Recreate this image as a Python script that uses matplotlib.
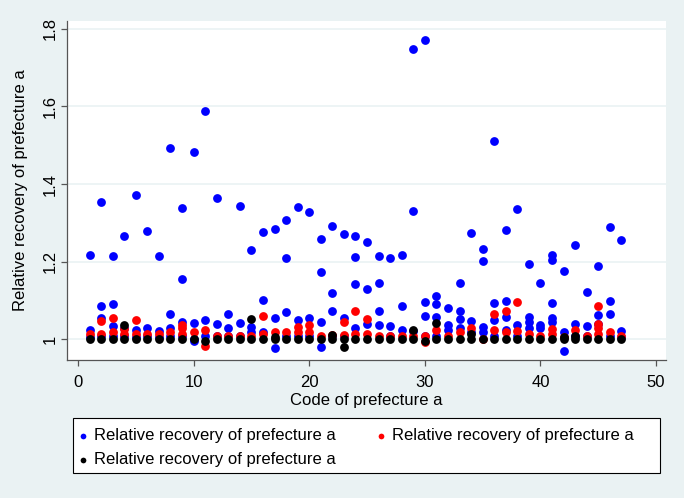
import matplotlib
matplotlib.use("Agg")
import matplotlib.pyplot as plt
from matplotlib.patches import Rectangle

plt.rcParams['font.family'] = ['Liberation Sans', 'DejaVu Sans']

# ---- data: (code, value) per series ----
blue_codes = [1,1,1, 2,2,2,2, 3,3,3,3, 4,4,4, 5,5,5, 6,6,6, 7,7,7, 8,8,8,8,
              9,9,9,9, 10,10,10,10, 11,11,11, 12,12,12, 13,13,13, 14,14,14,
              15,15,15, 16,16,16, 17,17,17, 18,18,18,18, 19,19,19, 20,20,20,
              21,21,21,21, 22,22,22,22, 23,23,23, 24,24,24,24, 25,25,25,
              26,26,26,26, 27,27,27, 28,28,28, 29,29,29, 30,30,30,30,
              31,31,31,31, 32,32,32, 33,33,33,33, 34,34,34, 35,35,35,35,
              36,36,36,36, 37,37,37,37, 38,38,38, 39,39,39,39, 40,40,40,
              41,41,41,41,41, 42,42,42, 43,43,43, 44,44,44, 45,45,45,
              46,46,46,46, 47,47,47]
blue_vals = [1.218,1.024,1.005, 1.353,1.086,1.055,1.01, 1.215,1.09,1.035,1.01,
             1.266,1.03,1.01, 1.371,1.025,1.005, 1.279,1.029,1.01, 1.215,1.022,1.005,
             1.493,1.065,1.03,1.01, 1.339,1.156,1.046,1.01, 1.483,1.042,1.0,0.995,
             1.588,1.049,1.01, 1.363,1.04,1.01, 1.066,1.03,1.01, 1.344,1.042,1.01,
             1.23,1.032,1.02, 1.277,1.102,1.02, 1.284,1.055,0.977, 1.308,1.21,1.07,1.01,
             1.34,1.05,1.01, 1.329,1.055,1.01, 1.259,1.173,1.046,0.981,
             1.292,1.119,1.073,1.01, 1.272,1.056,1.01, 1.266,1.212,1.144,1.03,
             1.25,1.13,1.04, 1.215,1.146,1.073,1.036, 1.21,1.034,1.01,
             1.218,1.085,1.025, 1.748,1.331,1.022, 1.772,1.097,1.061,1.01,
             1.112,1.092,1.058,1.01, 1.08,1.036,1.025, 1.145,1.072,1.053,1.03,
             1.273,1.048,1.02, 1.232,1.202,1.032,1.02, 1.511,1.095,1.05,1.01,
             1.282,1.1,1.058,1.025, 1.336,1.036,1.01, 1.194,1.058,1.046,1.03,
             1.146,1.036,1.03, 1.217,1.205,1.095,1.056,1.046, 1.176,1.02,0.971,
             1.243,1.04,1.01, 1.123,1.035,1.01, 1.19,1.062,1.04,
             1.289,1.10,1.065,1.01, 1.257,1.022,1.005]

red_codes = [1, 2,2, 3,3, 4,4, 5,5, 6, 7, 8, 9,9,9, 10, 11,11, 12, 13, 14, 15,
             16,16, 17, 18, 19,19, 20,20, 21, 22, 23,23, 24,24, 25,25, 26, 27,
             28, 29, 30,30, 31, 32, 33, 34, 35, 36,36, 37,37, 38,38, 39, 40,
             41,41, 42, 43, 44, 45,45,45,45, 46, 47]
red_vals = [1.013, 1.048,1.013, 1.056,1.02, 1.027,1.013, 1.051,1.013, 1.013, 1.015,
            1.02, 1.037,1.03,1.015, 1.02, 1.025,0.984, 1.01, 1.01, 1.01, 1.01,
            1.06,1.015, 1.02, 1.02, 1.033,1.02, 1.037,1.02, 1.01, 1.012,
            1.046,1.012, 1.072,1.015, 1.052,1.015, 1.01, 1.01, 1.01, 1.01,
            1.01,0.994, 1.025, 1.01, 1.02, 1.03, 1.0, 1.065,1.025, 1.072,1.02,
            1.097,1.022, 1.015, 1.01, 1.026,1.015, 1.005, 1.025, 1.01,
            1.085,1.04,1.03,1.015, 1.02, 1.008]

black_codes = list(range(1, 48)) + [4, 15, 22, 23, 29, 31, 34, 17, 42, 43]
black_vals = ([1.0]*10 + [0.997] + [1.0]*18 + [0.997] + [1.0]*17
              + [1.038, 1.053, 1.012, 0.98, 1.024, 1.041, 1.015, 1.006, 1.006, 1.01])

legend_label = "Relative recovery of prefecture a"
xlabel = "Code of prefecture a"
ylabel = "Relative recovery of prefecture a"
xticks = [0, 10, 20, 30, 40, 50]
yticks = [1.0, 1.2, 1.4, 1.6, 1.8]
ytick_labels = ["1", "1.2", "1.4", "1.6", "1.8"]

bg = "#EAF2F3"
W, H = 684, 498
fs = 12
fig = plt.figure(figsize=(W/100, H/100), dpi=100, facecolor=bg)
ax = fig.add_axes([67/W, 1-360/H, (666-67)/W, (360-21)/H])
ax.set_facecolor("white")

ms = 40
hb = ax.scatter(blue_codes, blue_vals, s=ms, color="#0000FF", linewidths=0, zorder=3)
hr = ax.scatter(red_codes, red_vals, s=ms, color="#FF0000", linewidths=0, zorder=4)
hk = ax.scatter(black_codes, black_vals, s=ms, color="black", linewidths=0, zorder=5)

ax.set_xlim(-0.95, 50.86)
ax.set_ylim(0.947, 1.82)
ax.set_xticks(xticks)
ax.set_yticks(yticks)
ax.set_yticklabels(ytick_labels, rotation=90, va="center")
ax.grid(axis="y", color=bg, linewidth=1.2, zorder=0)
ax.set_axisbelow(True)
for s in ["top", "right"]:
    ax.spines[s].set_visible(False)
for s in ["left", "bottom"]:
    ax.spines[s].set_color("#555555")
    ax.spines[s].set_linewidth(0.9)
ax.tick_params(axis="both", direction="out", length=4, width=0.9, color="#555555",
               labelsize=fs, labelcolor="black")
ax.tick_params(axis="x", pad=7)
ax.tick_params(axis="y", pad=3)
ax.set_xlabel(xlabel, fontsize=fs, labelpad=2)
ax.set_ylabel(ylabel, fontsize=fs, labelpad=10)

# legend frame drawn as a rectangle in figure pixels
fig.patches.append(Rectangle((73/W, 1-473/H), (660-73)/W, 55/H, transform=fig.transFigure,
                             facecolor="white", edgecolor="black", linewidth=0.8, zorder=1))
leg = fig.legend([hb, hk, hr], [legend_label]*3, ncol=2, loc="upper left",
                 bbox_to_anchor=(77/W, 1-428/H),
                 fontsize=fs, frameon=False, borderpad=0, handletextpad=0.3,
                 labelspacing=0.55, columnspacing=2.3, markerscale=0.65,
                 handlelength=0.75, borderaxespad=0)
leg.set_zorder(2)

fig.savefig("out.png", dpi=100, facecolor=bg)
